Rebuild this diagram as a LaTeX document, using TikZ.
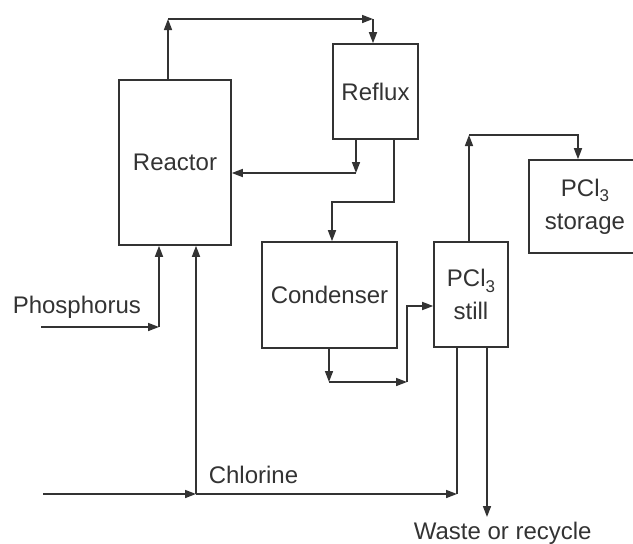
\documentclass[tikz,border=0pt]{standalone}
\usepackage{fontspec}
\setmainfont{Liberation Sans}
\usetikzlibrary{arrows.meta}
\definecolor{ink}{gray}{0.2}
\newcommand{\lowsub}[1]{\raisebox{-0.45ex}{\fontsize{17}{17}\selectfont #1}}

\begin{document}
\begin{tikzpicture}[x=1pt, y=-1pt, >={Triangle[length=11pt,width=8pt]}, line width=1.6pt, color=ink,
    unit/.style={draw, inner sep=0pt, align=center, font=\fontsize{24}{33}\selectfont},
    tag/.style={inner sep=0pt, font=\fontsize{24}{28}\selectfont}]
    \clip (0,0) rectangle (633,544);
    % Apparatus
    \node[unit, minimum width=112pt, minimum height=165pt] (reactor) at (175,162.5) {Reactor};
    \node[unit, minimum width=85pt, minimum height=95pt] (reflux) at (375.5,91.5) {Reflux};
    \node[unit, minimum width=135pt, minimum height=106pt] (condenser) at (329.5,295) {Condenser};
    \node[unit, minimum width=74pt, minimum height=105pt] (still) at (471,294.5) {PCl\lowsub{3}\\still};
    \node[unit, minimum width=112pt, minimum height=93pt] (storage) at (585,206.5) {PCl\lowsub{3}\\storage};
    % Feed labels
    \node[tag, anchor=base west] (phos) at (12,313) {Phosphorus};
    \node[tag, anchor=base west] (chlor) at (208,483) {Chlorine};
    \node[tag, anchor=base west] (waste) at (413,539) {Waste or recycle};

    % Reactor -> reflux
    \coordinate (r1) at (168,19);
    \coordinate (r2) at (373,19);
    \draw[->] (reactor.north -| r1) -- (r1);
    \draw[->] (r1) -- (r2);
    \draw[->] (r2) -- (reflux.north -| r2);
    % Reflux -> reactor
    \coordinate (b1) at (356,173);
    \draw[->] (reflux.south -| b1) -- (b1);
    \draw[->] (b1) -- (reactor.east |- b1);
    % Reflux -> condenser
    \coordinate (c1) at (394,202);
    \coordinate (c2) at (332,202);
    \draw[->] (reflux.south -| c1) -- (c1) -- (c2) -- (condenser.north -| c2);
    % Condenser -> still
    \coordinate (d1) at (329,382);
    \coordinate (d2) at (407,382);
    \coordinate (d3) at (407,306);
    \draw[->] (condenser.south -| d1) -- (d1);
    \draw[->] (d1) -- (d2);
    \draw[->] (d2) -- (d3) -- (still.west |- d3);
    % Still -> storage
    \coordinate (s1) at (469,135);
    \coordinate (s2) at (578,135);
    \draw[->] (still.north -| s1) -- (s1);
    \draw[->] (s1) -- (s2) -- (storage.north -| s2);
    % Phosphorus feed
    \coordinate (p0) at (41,327);
    \coordinate (p1) at (159,327);
    \draw[->] (p0) -- (p1);
    \draw[->] (p1) -- (reactor.south -| p1);
    % Chlorine feed
    \coordinate (k0) at (43,494);
    \coordinate (k1) at (196,494);
    \coordinate (k2) at (457,494);
    \draw[->] (k0) -- (k1);
    \draw[->] (k1) -- (k2);
    \draw (k2) -- (still.south -| k2);
    \draw[->] (k1) -- (reactor.south -| k1);
    % Waste
    \coordinate (w1) at (487,517);
    \draw[->] (still.south -| w1) -- (w1);
\end{tikzpicture}
\end{document}
